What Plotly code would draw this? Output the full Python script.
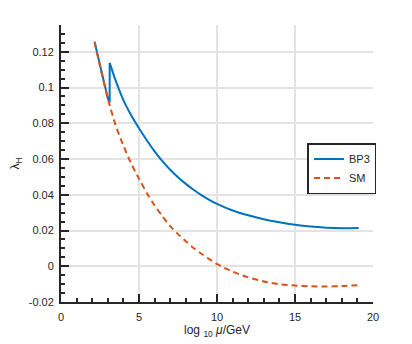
import plotly.graph_objects as go

# log10(mu/GeV) and the running Higgs quartic coupling
# BP3 before the threshold jump (follows the SM curve) ...
BP3_LOW_X = [2.15, 2.5, 3.0, 3.12, 3.12]
BP3_LOW_Y = [0.1256, 0.1120, 0.0940, 0.0916, 0.1138]
# ... and after it
BP3_HIGH_X = [3.12, 3.5, 4.0, 4.5, 5.0, 5.5, 6.0, 6.5, 7.0, 7.5, 8.0, 8.5,
              9.0, 9.5, 10.0, 11.0, 12.0, 13.0, 14.0, 15.0, 16.0, 17.0, 18.0,
              19.08]
BP3_HIGH_Y = [0.1138, 0.1040, 0.0930, 0.0845, 0.0772, 0.0705, 0.0643, 0.0588,
              0.0540, 0.0498, 0.0461, 0.0428, 0.0398, 0.0372, 0.0349, 0.0312,
              0.0285, 0.0263, 0.0246, 0.0232, 0.0222, 0.0216, 0.0213, 0.0214]

SM_X = [2.15, 2.5, 3.0, 3.5, 4.0, 4.5, 5.0, 5.5, 6.0, 6.5, 7.0, 7.5, 8.0,
        8.5, 9.0, 9.5, 10.0, 11.0, 12.0, 13.0, 14.0, 15.0, 16.0, 17.0, 18.0,
        19.08]
SM_Y = [0.1256, 0.1120, 0.0940, 0.0790, 0.0675, 0.0575, 0.0490, 0.0410,
        0.0340, 0.0280, 0.0225, 0.0180, 0.0140, 0.0102, 0.0070, 0.0040,
        0.0012, -0.0030, -0.0062, -0.0085, -0.0100, -0.0108, -0.0112,
        -0.0113, -0.0111, -0.0106]

Y_TICKS = [-0.02, 0, 0.02, 0.04, 0.06, 0.08, 0.1, 0.12]
Y_TICKTEXT = ["-0.02", "0", "0.02", "0.04", "0.06", "0.08", "0.1", "0.12"]
X_TICKS = [0, 5, 10, 15, 20]

INK = "#262626"
GRID = "#e3e3e3"
BLUE = "#0072BD"
ORANGE = "#D95319"

fig = go.Figure()
fig.add_trace(go.Scatter(x=BP3_LOW_X, y=BP3_LOW_Y, mode="lines", name="BP3",
                         legendgroup="bp3", line=dict(color=BLUE, width=2)))
fig.add_trace(go.Scatter(x=BP3_HIGH_X, y=BP3_HIGH_Y, mode="lines", name="BP3",
                         legendgroup="bp3", showlegend=False,
                         line=dict(color=BLUE, width=2, shape="spline",
                                   smoothing=0.8)))
fig.add_trace(go.Scatter(x=SM_X, y=SM_Y, mode="lines", name="SM",
                         line=dict(color=ORANGE, width=2, dash="6px,4px",
                                   shape="spline", smoothing=0.8)))

axis_common = dict(
    showline=True, linecolor=INK, linewidth=2,
    ticks="inside", ticklen=8, tickwidth=1.5, tickcolor=INK,
    showgrid=True, gridcolor=GRID, gridwidth=1.5,
    zeroline=False, mirror=False, automargin=False,
    tickfont=dict(size=11, color=INK),
)

fig.update_xaxes(
    **axis_common,
    range=[0, 20], tickvals=X_TICKS, ticklabelstandoff=4,
    minor=dict(dtick=1, ticklen=4, tickwidth=1.5, tickcolor=INK, showgrid=False,
               ticks="inside"),
    title=dict(text="log <sub>10</sub> <i>μ</i>/GeV", font=dict(size=12, color=INK),
               standoff=2),
)
fig.update_yaxes(
    **axis_common,
    range=[-0.02, 0.135], tickvals=Y_TICKS, ticktext=Y_TICKTEXT,
    ticklabelstandoff=3,
    minor=dict(dtick=0.005, tick0=0, ticklen=4, tickwidth=1.5, tickcolor=INK,
               showgrid=False, ticks="inside"),
    title=dict(text="λ<sub>H</sub>", font=dict(size=12, color=INK), standoff=14),
)

# the page body adds an 8px offset, so margins are trimmed by that much
fig.update_layout(
    width=412, height=344,
    margin=dict(l=53, r=47, t=17, b=50),
    paper_bgcolor="white", plot_bgcolor="white",
    font=dict(family="Liberation Sans, Arial, sans-serif", size=11, color=INK),
    legend=dict(x=0.79, y=0.574, xanchor="left", yanchor="top",
                bgcolor="white", bordercolor=INK, borderwidth=1.5,
                font=dict(size=11, color=INK), itemwidth=30,
                tracegroupgap=0),
    showlegend=True,
)

fig.write_html("out.html")
